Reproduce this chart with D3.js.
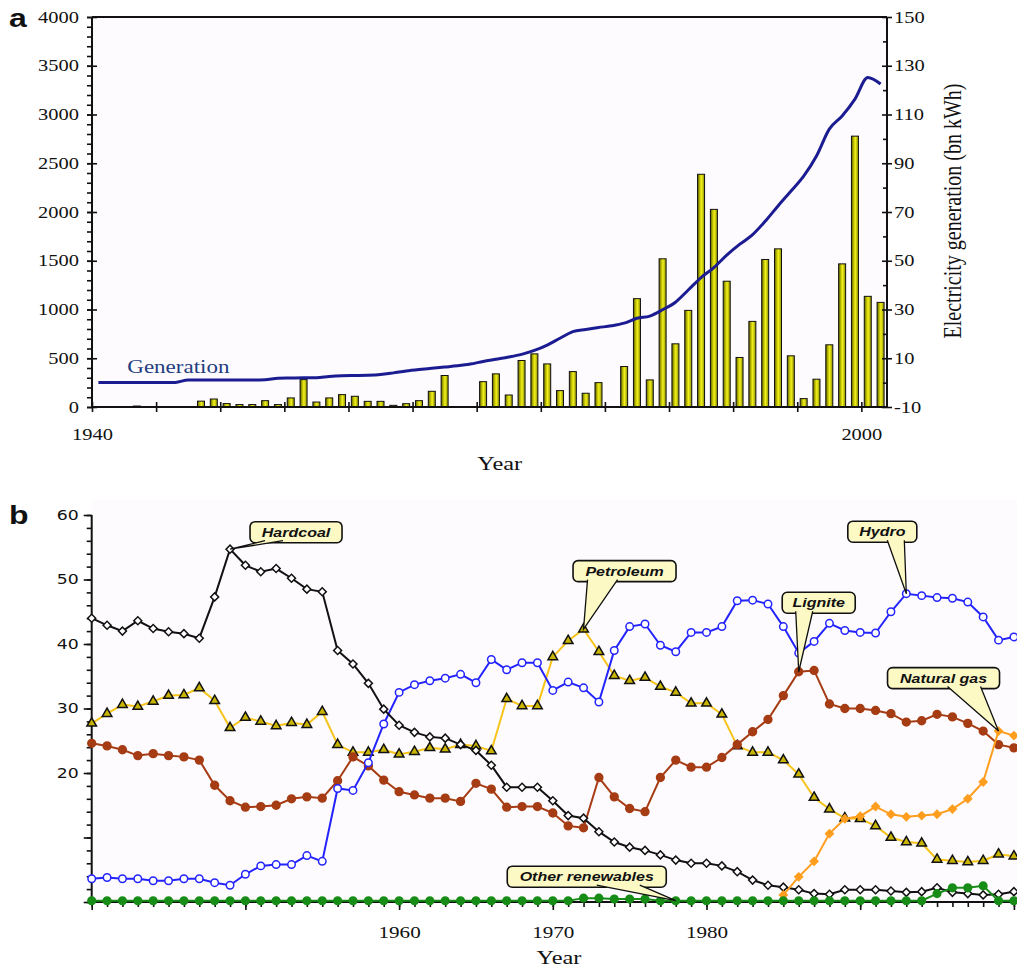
<!DOCTYPE html>
<html>
<head>
<meta charset="utf-8">
<script src="https://cdn.jsdelivr.net/npm/d3@7"></script>
<style>
  html, body { margin: 0; padding: 0; background: #fff; }
  svg { display: block; }
</style>
</head>
<body>
<svg id="chart" width="1017" height="969"></svg>
<script>
// ---------- panel a data ----------
const barYears = [1943, 1948, 1949, 1950, 1951, 1952, 1953, 1954, 1955, 1956, 1957, 1958, 1959, 1960,
  1961, 1962, 1963, 1964, 1965, 1966, 1967, 1970, 1971, 1972, 1973, 1974, 1975, 1976, 1977, 1978, 1979,
  1981, 1982, 1983, 1984, 1985, 1986, 1987, 1988, 1989, 1990, 1991, 1992, 1993, 1994, 1995, 1996, 1997,
  1998, 1999, 2000, 2001];
const barValues = [10, 60, 82, 35, 25, 25, 65, 25, 93, 281, 51, 93, 127, 110,
  58, 58, 17, 34, 65, 161, 323, 260, 340, 123, 477, 545, 442, 168, 363, 141, 250,
  415, 1111, 278, 1520, 648, 991, 2387, 2027, 1290, 508, 878, 1513, 1622, 525, 86, 285, 638,
  1468, 2778, 1135, 1073];

const genStart = 1940;
const genValues = [0.1, 0.1, 0.1, 0.1, 0.1, 0.1, 0.1, 1.1, 1.1, 1.1,
  1.1, 1.1, 1.1, 1.2, 1.8, 1.9, 2.0, 2.0, 2.5, 2.8,
  2.9, 3.0, 3.3, 4.0, 4.8, 5.4, 5.9, 6.4, 6.9, 7.6,
  8.7, 9.6, 10.5, 11.6, 13.2, 15.4, 18.2, 20.9, 21.8, 22.6,
  23.3, 24.4, 26.4, 27.3, 29.9, 33.0, 38.0, 43.1, 47.2, 52.3,
  56.7, 60.6, 66.2, 72.5, 78.5, 84.7, 93.0, 104.0, 109.4, 116.3,
  125.2, 122.5];

// ---------- panel b data (shares, 1940-2000) ----------
const shareStart = 1940;
const hardcoal = [44.0, 42.9, 42.0, 43.6, 42.4, 41.9, 41.6, 40.9, 47.3, 54.7,
  52.2, 51.2, 51.7, 50.2, 48.5, 48.1, 39.0, 36.9, 33.9, 29.9,
  27.4, 26.3, 25.6, 25.4, 24.4, 23.5, 21.2, 17.8, 17.8, 17.8,
  15.7, 13.4, 13.0, 10.9, 9.3, 8.5, 8.0, 7.3, 6.5, 6.0,
  6.0, 5.6, 4.7, 3.4, 2.6, 2.3, 1.9, 1.3, 1.2, 1.9,
  1.9, 1.9, 1.7, 1.5, 1.6, 2.2, 1.5, 1.3, 1.1, 1.2, 1.6];
const hydro = [3.6, 3.8, 3.6, 3.6, 3.3, 3.3, 3.6, 3.6, 3.0, 2.6,
  4.3, 5.6, 5.8, 5.8, 7.2, 6.3, 17.6, 17.3, 21.6, 27.6,
  32.5, 33.7, 34.3, 34.7, 35.3, 34.0, 37.6, 36.0, 37.1, 37.1,
  32.8, 34.1, 33.2, 31.0, 39.0, 42.7, 43.1, 39.8, 38.8, 41.8,
  41.8, 42.7, 46.7, 46.8, 46.2, 42.7, 38.6, 40.4, 43.2, 42.1,
  41.8, 41.7, 45.0, 47.8, 47.5, 47.2, 47.1, 46.5, 44.2, 40.6, 41.1];
const petroleum = [27.7, 29.2, 30.6, 30.3, 31.1, 32.0, 32.1, 33.2, 31.2, 27.0,
  28.6, 28.0, 27.3, 27.8, 27.5, 29.5, 24.4, 23.2, 23.2, 23.6,
  22.9, 23.3, 23.9, 23.7, 24.4, 24.2, 23.4, 31.5, 30.4, 30.4,
  38.0, 40.5, 42.3, 38.8, 35.1, 34.3, 34.8, 33.4, 32.5, 30.8,
  30.8, 29.1, 24.2, 23.2, 23.2, 22.0, 19.8, 16.2, 14.4, 13.0,
  12.9, 11.8, 10.0, 9.3, 9.1, 6.6, 6.4, 6.2, 6.4, 7.4, 7.1];
const lignite = [24.6, 24.2, 23.6, 22.7, 23.0, 22.7, 22.5, 22.0, 18.1, 15.7,
  14.7, 14.8, 15.0, 16.0, 16.3, 16.1, 18.8, 22.5, 21.1, 18.9,
  17.1, 16.6, 16.1, 16.1, 15.6, 18.4, 17.5, 14.7, 14.8, 14.8,
  13.8, 11.8, 11.5, 19.3, 16.3, 14.5, 14.0, 19.3, 22.0, 20.9,
  20.9, 22.4, 24.4, 26.4, 28.3, 32.0, 35.7, 35.9, 30.7, 30.0,
  30.0, 29.7, 29.2, 27.9, 28.1, 29.1, 28.7, 27.7, 26.5, 24.4, 23.9];
const naturalGasStart = 1985;
const naturalGas = [1.1, 3.9, 6.3, 10.6, 12.9, 13.3, 14.8, 13.6, 13.2, 13.4, 13.6, 14.4, 16.0, 18.6, 26.5, 25.8];
const otherRenewables = [0.2, 0.2, 0.2, 0.2, 0.2, 0.2, 0.2, 0.2, 0.2, 0.2,
  0.2, 0.2, 0.2, 0.2, 0.2, 0.2, 0.2, 0.2, 0.2, 0.2,
  0.2, 0.2, 0.2, 0.2, 0.2, 0.2, 0.2, 0.2, 0.2, 0.2,
  0.2, 0.2, 0.6, 0.6, 0.45, 0.45, 0.45, 0.2, 0.2, 0.2,
  0.2, 0.2, 0.2, 0.2, 0.2, 0.2, 0.2, 0.2, 0.2, 0.2,
  0.2, 0.2, 0.2, 0.2, 0.2, 1.3, 2.2, 2.2, 2.5, 0.2, 0.2];

const svg = d3.select("#chart");
const W = 1017;
const stretch = 1.28; // the figure is drawn wide, so horizontal text is widened
const serif = '"Liberation Serif", "Times New Roman", serif';

function wideText(sel, size, family) {
  sel.style("font-family", family).style("font-size", size + "px").attr("transform", `scale(${stretch},1)`);
}
function styleAxis(g) {
  g.select(".domain").remove();
  g.selectAll(".tick line").attr("stroke", "#111").attr("stroke-width", 1.6);
}

// ================= panel a =================
const xA = d3.scaleLinear().domain([1940, 2002]).range([92, 887]);
const yBar = d3.scaleLinear().domain([0, 4000]).range([407, 17]);
const yGen = d3.scaleLinear().domain([-10, 150]).range([407, 17]);

const gA = svg.append("g");
gA.append("rect")
  .attr("x", xA(1940)).attr("y", yBar(4000))
  .attr("width", xA(2002) - xA(1940)).attr("height", yBar(0) - yBar(4000))
  .attr("fill", "#fdfbfd");

const grad = svg.append("defs").append("linearGradient")
  .attr("id", "barFill").attr("x1", 0).attr("x2", 1).attr("y1", 0).attr("y2", 0);
[[0, "#5a5a00"], [0.3, "#b9b900"], [0.55, "#f2f21c"], [1, "#8a8a00"]].forEach(([o, c]) =>
  grad.append("stop").attr("offset", o).attr("stop-color", c));

gA.append("g").selectAll("rect")
  .data(barYears.map((y, i) => ({ year: y, value: barValues[i] })))
  .join("rect")
  .attr("x", d => xA(d.year + 0.5) - 3.5)
  .attr("width", 7)
  .attr("y", d => yBar(d.value))
  .attr("height", d => yBar(0) - yBar(d.value))
  .attr("fill", "url(#barFill)")
  .attr("stroke", "#111")
  .attr("stroke-width", 1);

const genLine = d3.line()
  .x((d, i) => xA(genStart + i + 0.5))
  .y(d => yGen(d))
  .curve(d3.curveMonotoneX);
gA.append("path").datum(genValues)
  .attr("d", genLine)
  .attr("fill", "none")
  .attr("stroke", "#1c1c92")
  .attr("stroke-width", 3);

// left axis: minor every 100, major every 500 (crossing)
gA.append("g").attr("transform", `translate(${xA(1940)},0)`)
  .call(d3.axisLeft(yBar).tickValues(d3.range(0, 4001, 100)).tickSize(5).tickFormat(""))
  .call(styleAxis);
gA.append("g").attr("transform", `translate(${xA(1940)},0)`)
  .call(d3.axisLeft(yBar).tickValues(d3.range(0, 4001, 500)).tickSize(-5).tickFormat(""))
  .call(styleAxis);
const leftA = gA.append("g").attr("transform", `translate(${xA(1940)},0)`)
  .call(d3.axisLeft(yBar).tickValues(d3.range(0, 4001, 500)).tickSize(5).tickFormat(d => String(d)))
  .call(styleAxis);
leftA.selectAll(".tick text").attr("x", -13 / stretch).attr("fill", "#111").call(wideText, 16, serif);

// right axis
gA.append("g").attr("transform", `translate(${xA(2002)},0)`)
  .call(d3.axisRight(yGen).tickValues(d3.range(0, 141, 20)).tickSize(-4).tickFormat(""))
  .call(styleAxis);
gA.append("g").attr("transform", `translate(${xA(2002)},0)`)
  .call(d3.axisRight(yGen).tickValues(d3.range(-10, 151, 20)).tickSize(-5).tickFormat(""))
  .call(styleAxis);
const rightA = gA.append("g").attr("transform", `translate(${xA(2002)},0)`)
  .call(d3.axisRight(yGen).tickValues(d3.range(-10, 151, 20)).tickSize(5).tickFormat(d => String(d)))
  .call(styleAxis);
rightA.selectAll(".tick text").attr("x", 7 / stretch).attr("fill", "#111").call(wideText, 16, serif);

// bottom axis: ticks every 5 years crossing the line
gA.append("g").attr("transform", `translate(0,${yBar(0)})`)
  .call(d3.axisBottom(xA).tickValues(d3.range(1940, 2001, 5)).tickSize(-5).tickFormat(""))
  .call(styleAxis);
const botA = gA.append("g").attr("transform", `translate(0,${yBar(0)})`)
  .call(d3.axisBottom(xA).tickValues(d3.range(1940, 2001, 5)).tickSize(5)
    .tickFormat(d => (d === 1940 || d === 2000) ? String(d) : ""))
  .call(styleAxis);
botA.selectAll(".tick text").attr("y", 33).attr("dy", 0).attr("fill", "#111").call(wideText, 16, serif);

// frame lines
const frameA = [
  [[xA(1940), yBar(0)], [xA(2002), yBar(0)]],
  [[xA(1940), yBar(0)], [xA(1940), yBar(4000)]],
  [[xA(1940), yBar(4000)], [xA(2002), yBar(4000)]],
  [[xA(2002), yBar(0)], [xA(2002), yBar(4000)]]
];
gA.append("g").selectAll("path").data(frameA).join("path")
  .attr("d", d3.line())
  .attr("stroke", "#111").attr("stroke-width", 2).attr("fill", "none");

// labels panel a
gA.append("g").attr("transform", `translate(${xA(1942.75)},${yGen(3.8)})`)
  .append("text").text("Generation").attr("fill", "#1f3d80")
  .call(wideText, 18, serif);
gA.append("g").attr("transform", `translate(${xA(1971.8)},470)`)
  .append("text").text("Year").attr("text-anchor", "middle").attr("fill", "#111")
  .call(wideText, 19, serif);
gA.append("text")
  .attr("transform", `translate(961,211) rotate(-90) scale(1,${stretch})`)
  .attr("text-anchor", "middle")
  .style("font-family", serif).style("font-size", "20px").attr("fill", "#111")
  .text("Electricity generation (bn kWh)");
svg.append("g").attr("transform", "translate(9,27)")
  .append("text").text("a").style("font-weight", "bold").attr("fill", "#111")
  .call(wideText, 25, '"Liberation Sans", Arial, sans-serif');

// ================= panel b =================
const xB = d3.scaleLinear().domain([1940, 2000]).range([91.7, 1013.9]);
const yB = d3.scaleLinear().domain([0, 60]).range([902, 515]);

const gB = svg.append("g");
gB.append("rect")
  .attr("x", xB(1940)).attr("y", 500)
  .attr("width", W - xB(1940)).attr("height", yB(0) - 500)
  .attr("fill", "#fdfbfd");

// left axis
gB.append("g").attr("transform", `translate(${xB(1940)},0)`)
  .call(d3.axisLeft(yB).tickValues(d3.range(0, 61, 2)).tickSize(5).tickFormat(""))
  .call(styleAxis);
const leftB = gB.append("g").attr("transform", `translate(${xB(1940)},0)`)
  .call(d3.axisLeft(yB).tickValues(d3.range(0, 61, 10)).tickSize(8)
    .tickFormat(d => d >= 20 ? String(d) : ""))
  .call(styleAxis);
leftB.selectAll(".tick text").attr("x", -13 / stretch).attr("fill", "#111")
  .call(wideText, 13.5, '"DejaVu Sans", Verdana, sans-serif');

// bottom axis
gB.append("g").attr("transform", `translate(0,${yB(0)})`)
  .call(d3.axisBottom(xB).tickValues(d3.range(1940, 2001, 1)).tickSize(5).tickFormat(""))
  .call(styleAxis);
const botB = gB.append("g").attr("transform", `translate(0,${yB(0)})`)
  .call(d3.axisBottom(xB).tickValues(d3.range(1940, 2001, 10)).tickSize(8)
    .tickFormat(d => (d >= 1960 && d <= 1980) ? String(d) : ""))
  .call(styleAxis);
botB.selectAll(".tick text").attr("y", 36).attr("dy", 0).attr("fill", "#111").call(wideText, 16.5, serif);

gB.append("g").selectAll("path")
  .data([
    [[xB(1940), yB(0)], [W, yB(0)]],
    [[xB(1940), yB(0)], [xB(1940), yB(60)]]
  ]).join("path")
  .attr("d", d3.line())
  .attr("stroke", "#111").attr("stroke-width", 2).attr("fill", "none");

// series
const series = [
  { name: "Petroleum", start: shareStart, values: petroleum, line: "#f6c41a", shape: d3.symbolTriangle, size: 40, fill: "#c9b500", stroke: "#111", rot: 0 },
  { name: "Lignite", start: shareStart, values: lignite, line: "#a63c14", shape: d3.symbolCircle, size: 48, fill: "#a63c14", stroke: "#a63c14", rot: 0 },
  { name: "Hydro", start: shareStart, values: hydro, line: "#2323ff", shape: d3.symbolCircle, size: 44, fill: "#fff", stroke: "#2323ff", rot: 0 },
  { name: "Hardcoal", start: shareStart, values: hardcoal, line: "#111", shape: d3.symbolSquare, size: 32, fill: "#fff", stroke: "#111", rot: 45 },
  { name: "Natural gas", start: naturalGasStart, values: naturalGas, line: "#ff9e1e", shape: d3.symbolSquare, size: 30, fill: "#ff9e1e", stroke: "#ff9e1e", rot: 45 },
  { name: "Other renewables", start: shareStart, values: otherRenewables, line: "#178c17", shape: d3.symbolCircle, size: 46, fill: "#178c17", stroke: "#178c17", rot: 0 }
];

series.forEach(s => {
  const g = gB.append("g");
  const pts = s.values.map((v, i) => ({ year: s.start + i, value: v }));
  g.append("path").datum(pts)
    .attr("d", d3.line().x(d => xB(d.year)).y(d => yB(d.value)))
    .attr("fill", "none")
    .attr("stroke", s.line)
    .attr("stroke-width", 2);
  g.selectAll("path.pt").data(pts).join("path")
    .attr("class", "pt")
    .attr("d", d3.symbol(s.shape, s.size))
    .attr("transform", d => `translate(${xB(d.year)},${yB(d.value)}) rotate(${s.rot})`)
    .attr("fill", s.fill)
    .attr("stroke", s.stroke)
    .attr("stroke-width", 1.5);
});

// callouts
const callouts = [
  { label: "Hardcoal", values: hardcoal, start: shareStart, year: 1949, dx: 66, dy: -17, w: 92, base: [-31, -13] },
  { label: "Petroleum", values: petroleum, start: shareStart, year: 1972, dx: 41, dy: -58, w: 103, base: [-37, -7] },
  { label: "Lignite", values: lignite, start: shareStart, year: 1986, dx: 20, dy: -69, w: 73, base: [-23, -6] },
  { label: "Hydro", values: hydro, start: shareStart, year: 1993, dx: -24, dy: -62, w: 69, base: [5, 22] },
  { label: "Natural gas", values: naturalGas, start: naturalGasStart, year: 1999, dx: -55, dy: -53, w: 112, base: [4, 37] },
  { label: "Other renewables", values: otherRenewables, start: shareStart, year: 1978, dx: -89, dy: -24, w: 159, base: [10, 53] }
];
const boxH = 21;
const gC = svg.append("g");
callouts.forEach(c => {
  const px = xB(c.year), py = yB(c.values[c.year - c.start]);
  const cx = px + c.dx, cy = py + c.dy;
  const by = cy + boxH / 2;
  gC.append("rect")
    .attr("x", cx - c.w / 2).attr("y", cy - boxH / 2)
    .attr("width", c.w).attr("height", boxH).attr("rx", 5)
    .attr("fill", "#fcf9c4").attr("stroke", "#111").attr("stroke-width", 1.6);
  gC.append("path")
    .attr("d", d3.line()([[cx + c.base[0], by - 2], [px, py], [cx + c.base[1], by - 2]]))
    .attr("fill", "#fcf9c4").attr("stroke", "#111").attr("stroke-width", 1.3);
  gC.append("g").attr("transform", `translate(${cx},${cy + 4.5})`)
    .append("text").text(c.label)
    .attr("text-anchor", "middle")
    .style("font-weight", "bold").style("font-style", "italic").attr("fill", "#111")
    .call(wideText, 12.5, '"Liberation Sans", Arial, sans-serif');
});

gB.append("g").attr("transform", `translate(${xB(1970.4)},964)`)
  .append("text").text("Year").attr("text-anchor", "middle").attr("fill", "#111")
  .call(wideText, 19, serif);
svg.append("g").attr("transform", "translate(9,524)")
  .append("text").text("b").style("font-weight", "bold").attr("fill", "#111")
  .call(wideText, 25, '"Liberation Sans", Arial, sans-serif');
</script>
</body>
</html>
